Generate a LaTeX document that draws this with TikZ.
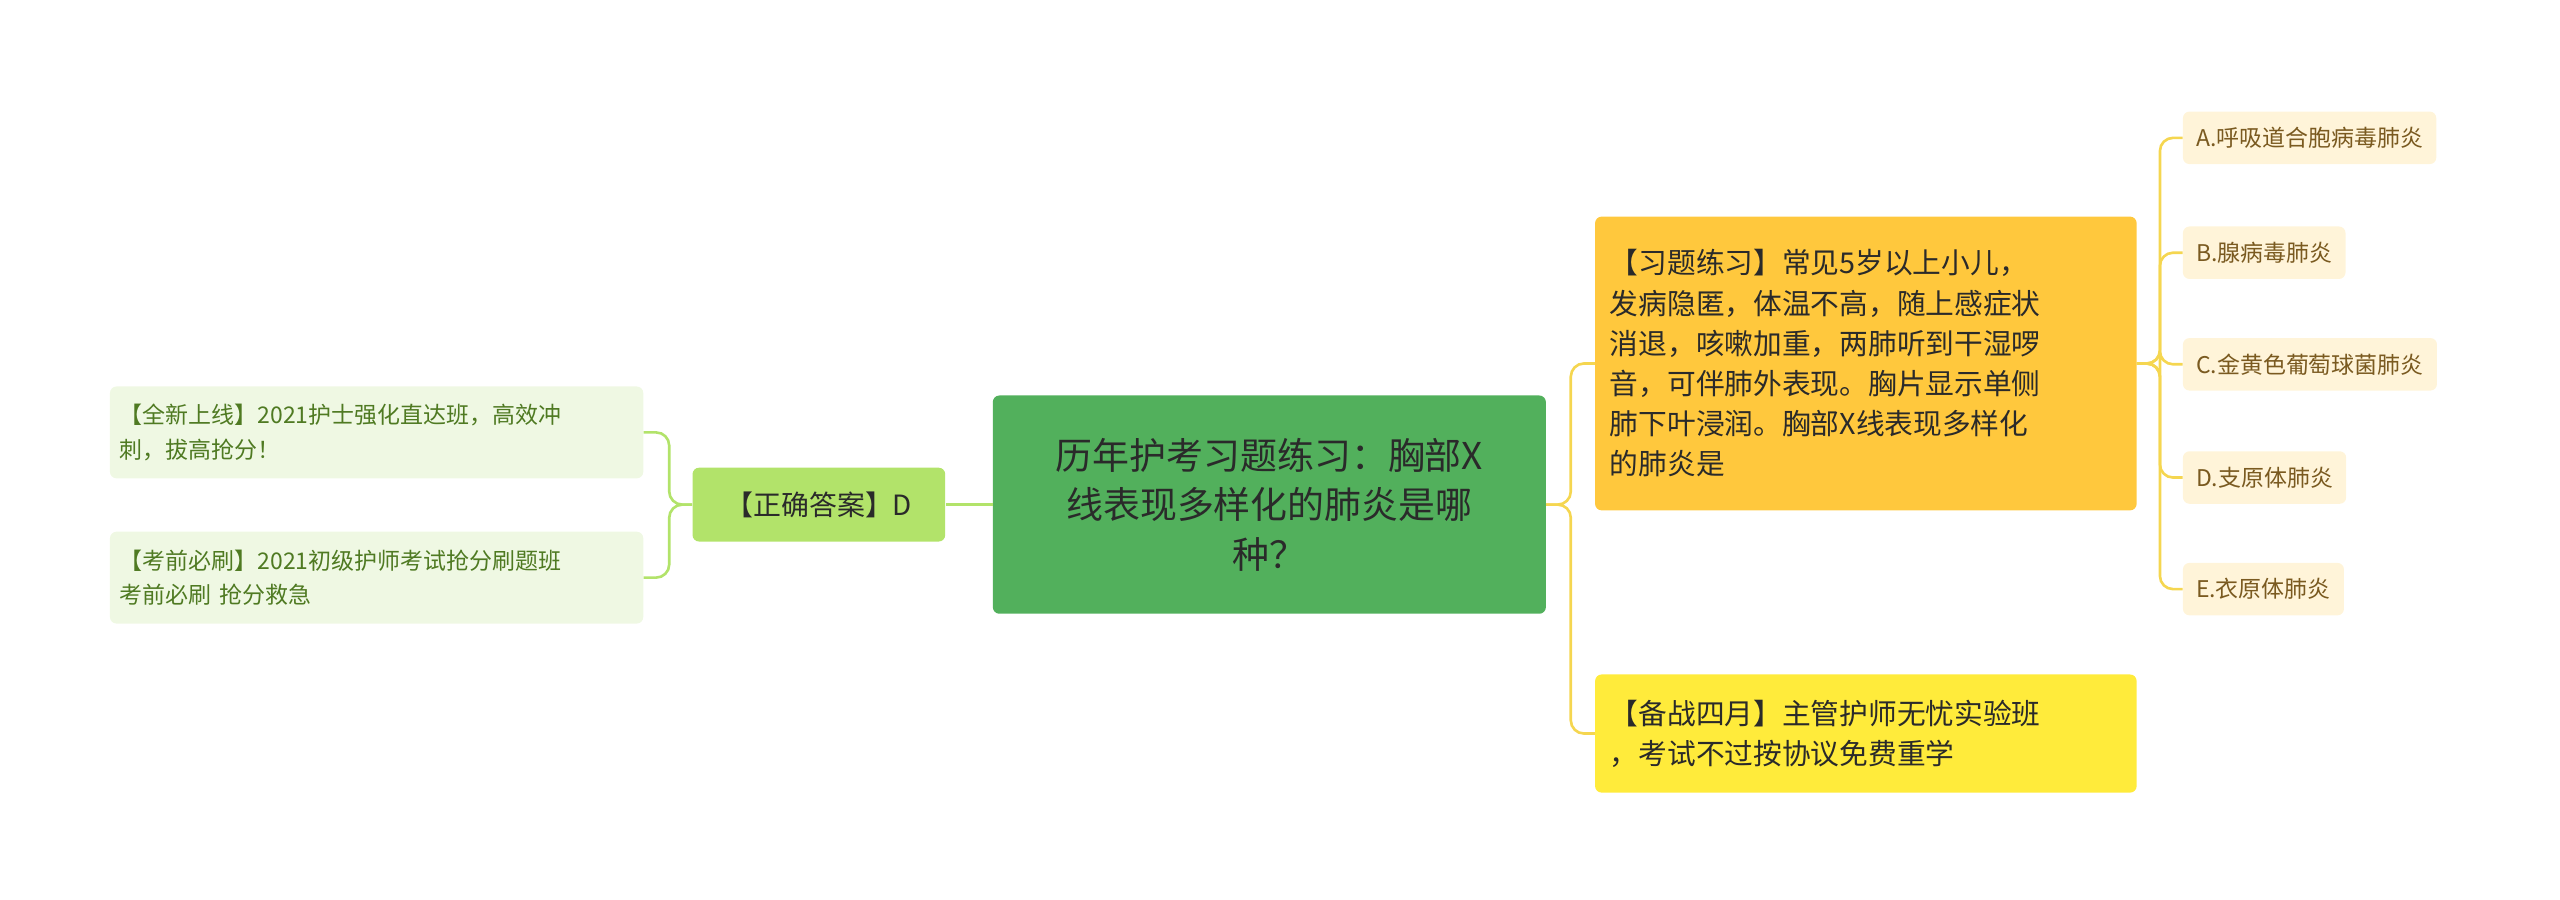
\documentclass[tikz,border=0pt]{standalone}
\usepackage{fontspec}
\setmainfont{Noto Sans CJK SC}
\begin{document}
\begin{tikzpicture}[x=1pt,y=-1pt,
 box/.style={draw=none,rounded corners=4pt,inner sep=0pt,align=left},
 cen/.style={box,fill=cgreen,text=ctxt,font=\fontsize{22.5}{30}\selectfont,align=center,minimum width=337pt,minimum height=133pt},
 ans/.style={box,fill=agreen,text=ctxt,font=\fontsize{17}{22}\selectfont,minimum width=154pt,minimum height=45pt,align=center},
 lleaf/.style={box,fill=lgreen,text=ltxt,font=\fontsize{14}{21}\selectfont,minimum width=325pt,minimum height=56pt,text width=313pt},
 rmain/.style={box,fill=orange,text=ctxt,font=\fontsize{17.5}{24.5}\selectfont,minimum width=330pt,text width=312pt},
 opt/.style={box,fill=optf,text=otxt,font=\fontsize{14}{18}\selectfont,minimum height=32pt,inner xsep=8pt},
 yl/.style={draw=yline,line width=1.6pt,rounded corners=8pt},
 gl/.style={draw=gline,line width=1.6pt,rounded corners=8pt}]
\definecolor{cgreen}{HTML}{52B05C}
\definecolor{agreen}{HTML}{B2E36A}
\definecolor{lgreen}{HTML}{EFF8E3}
\definecolor{ltxt}{HTML}{4F7A22}
\definecolor{ctxt}{HTML}{2A2A2A}
\definecolor{orange}{HTML}{FFC83D}
\definecolor{yel}{HTML}{FFEB3B}
\definecolor{optf}{HTML}{FFF4D9}
\definecolor{otxt}{HTML}{7A5A20}
\definecolor{yline}{HTML}{F5D650}
\definecolor{gline}{HTML}{B2E36A}
\useasboundingbox (0,0) rectangle (1560,548);
\node[cen] (c) at (773.5,307.5) {历年护考习题练习：胸部X\\线表现多样化的肺炎是哪\\种？};
\node[ans] (a) at (499,307.5) {【正确答案】D};
\node[lleaf] (l1) at (229.5,263.5) {【全新上线】2021护士强化直达班，高效冲\\刺，拔高抢分！};
\node[lleaf] (l2) at (229.5,352) {【考前必刷】2021初级护师考试抢分刷题班\\考前必刷 抢分救急};
\node[rmain,minimum height=179pt] (r1) at (1137,221.5) {【习题练习】常见5岁以上小儿，\\发病隐匿，体温不高，随上感症状\\消退，咳嗽加重，两肺听到干湿啰\\音，可伴肺外表现。胸片显示单侧\\肺下叶浸润。胸部X线表现多样化\\的肺炎是};
\node[rmain,fill=yel,minimum height=72pt] (r2) at (1137,447) {【备战四月】主管护师无忧实验班\\，考试不过按协议免费重学};
\node[opt,anchor=west] (o1) at (1330,84) {A.呼吸道合胞病毒肺炎};
\node[opt,anchor=west] (o2) at (1330,154) {B.腺病毒肺炎};
\node[opt,anchor=west] (o3) at (1330,222) {C.金黄色葡萄球菌肺炎};
\node[opt,anchor=west] (o4) at (1330,291) {D.支原体肺炎};
\node[opt,anchor=west] (o5) at (1330,359) {E.衣原体肺炎};
\draw[gl] (c.west) -- (a.east);
\foreach \n in {l1,l2} \draw[gl] (a.west) -- ++(-14,0) |- (\n.east);
\foreach \n in {r1,r2} \draw[yl] (c.east) -- ++(15,0) |- (\n.west);
\foreach \n in {o1,o2,o3,o4,o5} \draw[yl] (r1.east) -- ++(14,0) |- (\n.west);
\end{tikzpicture}
\end{document}
